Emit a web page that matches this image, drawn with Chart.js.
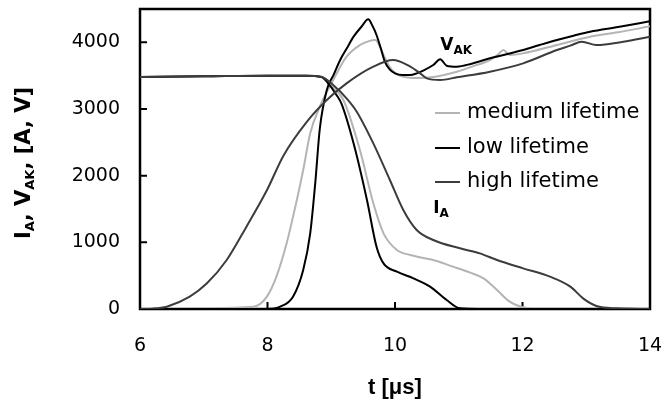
<!DOCTYPE html>
<html>
<head>
<meta charset="utf-8">
<script src="https://cdn.jsdelivr.net/npm/chart.js@4/dist/chart.umd.min.js"></script>
<style>
  body { margin: 0; background: #fff; }
  canvas { display: block; }
</style>
</head>
<body>
<canvas id="turnoff_chart" width="665" height="409"></canvas>
<script>
// axis ticks
var xTicks = [6, 8, 10, 12, 14];
var yTicks = [0, 1000, 2000, 3000, 4000];

var seriesNames = ["medium lifetime", "low lifetime", "high lifetime"];
var seriesColors = ["#b4b4b4", "#000000", "#3c3c3c"];

// anode voltage V_AK [V]
var tVakMedium = [6, 7.78, 7.99, 8.14, 8.30, 8.46, 8.56, 8.67, 8.82, 9.03, 9.24, 9.45, 9.58, 9.69, 9.76, 9.82, 9.95, 10.13, 10.36, 10.6, 10.97, 11.25, 11.49, 11.62, 11.70, 11.80, 12.01, 12.54, 13.06, 13.5, 14];
var vakMedium = [0, 35, 185, 485, 985, 1635, 2085, 2635, 3035, 3435, 3785, 3960, 4015, 4035, 3950, 3810, 3585, 3485, 3465, 3480, 3560, 3650, 3735, 3820, 3885, 3810, 3835, 3960, 4085, 4150, 4240];

var tVakLow = [6, 8.0, 8.2, 8.4, 8.56, 8.67, 8.75, 8.82, 8.93, 9.04, 9.14, 9.25, 9.35, 9.47, 9.58, 9.65, 9.71, 9.78, 9.84, 9.92, 10.0, 10.12, 10.24, 10.34, 10.45, 10.6, 10.71, 10.81, 10.97, 11.2, 11.49, 11.75, 12.01, 12.27, 12.54, 12.8, 13.06, 13.5, 14];
var vakLow = [0, 0, 35, 185, 585, 1135, 1900, 2700, 3285, 3520, 3735, 3920, 4085, 4230, 4345, 4240, 4110, 3900, 3710, 3590, 3535, 3510, 3510, 3535, 3580, 3660, 3745, 3650, 3635, 3680, 3760, 3820, 3885, 3960, 4035, 4100, 4160, 4230, 4315];

var tVakHigh = [6, 6.2, 6.42, 6.78, 7.05, 7.36, 7.67, 7.99, 8.25, 8.61, 8.93, 9.24, 9.66, 9.97, 10.24, 10.36, 10.5, 10.71, 10.97, 11.49, 12.01, 12.54, 12.75, 12.93, 13.16, 13.58, 14];
var vakHigh = [0, 5, 35, 185, 385, 735, 1235, 1780, 2300, 2800, 3135, 3385, 3635, 3735, 3635, 3560, 3460, 3435, 3475, 3560, 3685, 3885, 3950, 4010, 3960, 4010, 4085];

// anode current I_A [A]
var tIaMedium = [6, 7, 8, 8.6, 8.85, 8.98, 9.19, 9.45, 9.66, 9.82, 10.03, 10.24, 10.6, 10.91, 11.18, 11.39, 11.6, 11.8, 12.01, 12.2, 14];
var iaMedium = [3480, 3490, 3500, 3500, 3480, 3360, 3135, 2385, 1585, 1135, 885, 810, 735, 635, 545, 460, 285, 110, 25, 0, 0];

var tIaLow = [6, 7, 8, 8.6, 8.85, 8.93, 9.09, 9.16, 9.35, 9.56, 9.71, 9.82, 10.03, 10.29, 10.55, 10.81, 11.02, 11.3, 14];
var iaLow = [3480, 3490, 3500, 3500, 3480, 3410, 3200, 3080, 2485, 1635, 935, 685, 560, 460, 335, 135, 10, 0, 0];

var tIaHigh = [6, 7, 8, 8.6, 8.85, 9.03, 9.24, 9.40, 9.66, 9.92, 10.13, 10.34, 10.6, 11.02, 11.33, 11.6, 12.01, 12.43, 12.75, 12.95, 13.16, 13.48, 14];
var iaHigh = [3480, 3490, 3500, 3500, 3480, 3360, 3160, 2960, 2485, 1935, 1485, 1185, 1035, 910, 835, 735, 610, 485, 335, 160, 45, 10, 0];

function pts(ts, vs) {
    return ts.map(function (t, i) { return {x: t, y: vs[i]}; });
}

function curve(ts, vs, idx) {
    return {
        label: seriesNames[idx],
        data: pts(ts, vs),
        borderColor: seriesColors[idx],
        borderWidth: 2,
        pointRadius: 0,
        cubicInterpolationMode: "monotone",
        fill: false
    };
}

// draws text made of normal and subscript parts
function richText(ctx, parts, x, y, size, subSize, align) {
    var w = 0;
    parts.forEach(function (p) {
        ctx.font = "bold " + (p.sub ? subSize : size) + "px 'DejaVu Sans'";
        p.w = ctx.measureText(p.t).width;
        w += p.w;
    });
    var cx = align === "center" ? x - w / 2 : x;
    parts.forEach(function (p) {
        ctx.font = "bold " + (p.sub ? subSize : size) + "px 'DejaVu Sans'";
        ctx.fillText(p.t, cx, p.sub ? y + size * 0.25 : y);
        cx += p.w;
    });
}

var decor = {
    id: "decor",
    beforeDatasetsDraw: function (chart) {
        var ctx = chart.ctx, a = chart.chartArea;
        var xs = chart.scales.x, ys = chart.scales.y;
        ctx.save();
        ctx.strokeStyle = "#000";
        ctx.lineWidth = 2.5;
        ctx.strokeRect(a.left, a.top, a.right - a.left, a.bottom - a.top);
        ctx.lineWidth = 2;
        ctx.beginPath();
        xTicks.forEach(function (v) {
            var px = xs.getPixelForValue(v);
            ctx.moveTo(px, a.bottom);
            ctx.lineTo(px, a.bottom - 7);
        });
        yTicks.forEach(function (v) {
            var py = ys.getPixelForValue(v);
            ctx.moveTo(a.left, py);
            ctx.lineTo(a.left + 7, py);
        });
        ctx.stroke();
        ctx.restore();
    },
    afterDraw: function (chart) {
        var ctx = chart.ctx;
        var xs = chart.scales.x, ys = chart.scales.y;
        ctx.save();
        ctx.fillStyle = "#000";

        // legend
        var rows = [113, 148, 182];
        ctx.font = "21px 'DejaVu Sans'";
        ctx.textBaseline = "middle";
        seriesNames.forEach(function (name, i) {
            ctx.strokeStyle = seriesColors[i];
            ctx.lineWidth = 2;
            ctx.beginPath();
            ctx.moveTo(435, rows[i]);
            ctx.lineTo(460, rows[i]);
            ctx.stroke();
            ctx.fillText(name, 467, rows[i]);
        });

        // curve labels
        ctx.textBaseline = "alphabetic";
        richText(ctx, [{t: "V"}, {t: "AK", sub: true}],
            xs.getPixelForValue(10.71), ys.getPixelForValue(3885), 17, 12, "left");
        richText(ctx, [{t: "I"}, {t: "A", sub: true}],
            xs.getPixelForValue(10.6), ys.getPixelForValue(1440), 17, 12, "left");

        // y axis title
        ctx.translate(25, 163);
        ctx.rotate(-Math.PI / 2);
        ctx.textBaseline = "middle";
        richText(ctx, [{t: "I"}, {t: "A", sub: true}, {t: ", V"}, {t: "AK", sub: true}, {t: ", [A, V]"}],
            0, 0, 21, 13, "center");
        ctx.restore();
    }
};

new Chart(document.getElementById("turnoff_chart"), {
    type: "line",
    data: {
        // first dataset ends up on top
        datasets: [
            curve(tVakHigh, vakHigh, 2),
            curve(tIaHigh, iaHigh, 2),
            curve(tVakLow, vakLow, 1),
            curve(tIaLow, iaLow, 1),
            curve(tVakMedium, vakMedium, 0),
            curve(tIaMedium, iaMedium, 0)
        ]
    },
    options: {
        responsive: false,
        animation: false,
        layout: {padding: {left: 0, right: 15, top: 9, bottom: 0}},
        plugins: {
            legend: {display: false},
            tooltip: {enabled: false}
        },
        scales: {
            x: {
                type: "linear",
                min: 6,
                max: 14,
                grid: {display: false, drawTicks: false},
                border: {display: false},
                afterBuildTicks: function (scale) {
                    scale.ticks = xTicks.map(function (v) { return {value: v}; });
                },
                afterFit: function (scale) {
                    scale.height = 100;
                    scale.paddingLeft = 0;
                    scale.paddingRight = 0;
                },
                ticks: {
                    padding: 26,
                    color: "#000",
                    font: {family: "'DejaVu Sans'", size: 19},
                    maxRotation: 0,
                    callback: function (v) { return String(v); }
                },
                title: {
                    display: true,
                    text: "t [\u03bcs]",
                    color: "#000",
                    font: {family: "'Liberation Sans'", size: 22, weight: "bold"},
                    padding: {top: 0, bottom: 8}
                }
            },
            y: {
                min: 0,
                max: 4500,
                grid: {display: false, drawTicks: false},
                border: {display: false},
                afterBuildTicks: function (scale) {
                    scale.ticks = yTicks.map(function (v) { return {value: v}; });
                },
                afterFit: function (scale) {
                    scale.width = 140;
                    scale.paddingTop = 0;
                    scale.paddingBottom = 0;
                },
                ticks: {
                    padding: 20,
                    color: "#000",
                    font: {family: "'DejaVu Sans'", size: 19},
                    callback: function (v) { return String(v); }
                }
            }
        }
    },
    plugins: [decor]
});
</script>
</body>
</html>
